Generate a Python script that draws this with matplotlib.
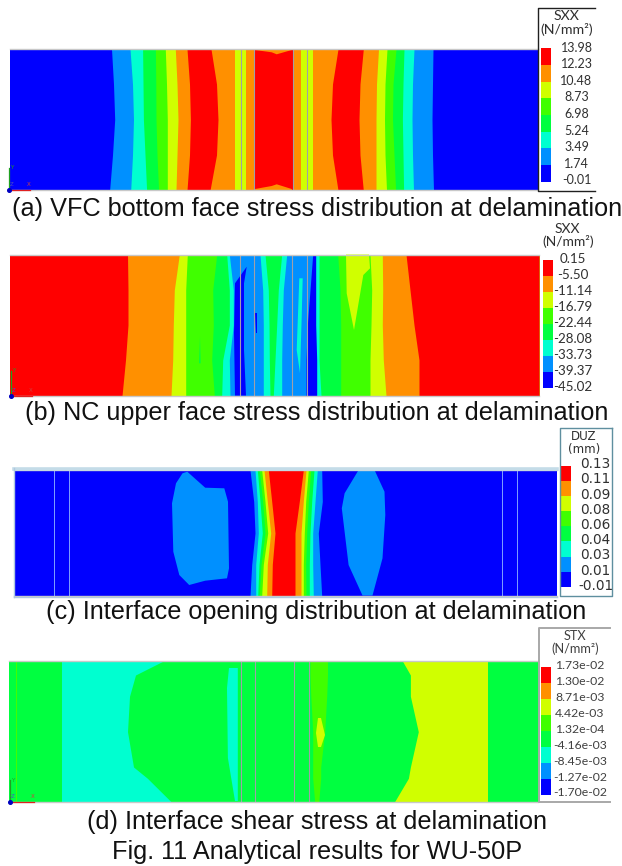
import matplotlib
matplotlib.use("Agg")
import matplotlib.pyplot as plt

# contour palette, lowest band to highest band
PALETTE = ['#0000ff', '#0090ff', '#00ffd0', '#00ff40', '#40ff00', '#d0ff00', '#ff9000', '#ff0000']
B, LB, CY, GR, LI, YE, OR, RE = PALETTE
GREY = '#a0a0a8'

# ---- Panel (a) VFC bottom face stress
a_title = ['SXX', '(N/mm²)']
a_ticks = ['13.98', '12.23', '10.48', '8.73', '6.98', '5.24', '3.49', '1.74', '-0.01']
a_rows = [49, 84, 119.5, 155, 190.3]
a_bands = [
    (B,  [9.5, 9.5, 9.5, 9.5, 9.5]),
    (LB, [111.5, 113.5, 114.7, 112.5, 109.6]),
    (CY, [130, 132.5, 133.5, 132.5, 130.7]),
    (GR, [142.6, 143, 143.4, 145, 146.6]),
    (LI, [155.4, 155.8, 156, 157, 158.6]),
    (YE, [165.3, 166.5, 167.3, 167.3, 167.3]),
    (OR, [175.3, 177, 178, 177, 176]),
    (RE, [187, 189.5, 190.4, 189.5, 187]),
    (OR, [211, 216.5, 218, 216.5, 210]),
    (YE, [235, 235, 235, 235, 235]),
    (OR, [245.6, 245.6, 245.6, 245.6, 245.6]),
    (RE, [254.3, 254.3, 254.3, 254.3, 254.3]),
    (OR, [293.3, 293.3, 293.3, 293.3, 293.3]),
    (YE, [301.3, 301.3, 301.3, 301.3, 301.3]),
    (OR, [312.7, 312.7, 312.7, 312.7, 312.7]),
    (RE, [338, 332.5, 331, 332.5, 338]),
    (OR, [363.3, 360, 359, 360, 363.3]),
    (YE, [378.5, 376.5, 376, 376, 376]),
    (LI, [387, 385, 384.5, 385, 386.5]),
    (GR, [396, 393, 392.5, 394, 395.6]),
    (CY, [404, 403, 402.4, 403, 403.6]),
    (LB, [414, 412.5, 412, 412.5, 413.5]),
    (B,  [433, 432.5, 432, 432.5, 433.5]),
]
a_right = 538
a_patches = [
    (OR, [(255, 49), (292, 49), (291.7, 50), (276.7, 54.3), (271.7, 52.3), (255, 50)]),
    (OR, [(255, 190.3), (292, 190.3), (291.7, 189), (276.7, 184.3), (271.7, 186), (255, 189)]),
]
a_lines = [240.7, 254, 293.3, 307.3]

# ---- Panel (b) NC upper face stress
b_title = ['SXX', '(N/mm²)']
b_ticks = ['0.15', '-5.50', '-11.14', '-16.79', '-22.44', '-28.08', '-33.73', '-39.37', '-45.02']
b_rows = [254.5, 290, 325, 360, 395.7]
b_bands = [
    (RE, [10, 10, 10, 10, 10]),
    (OR, [127.5, 128, 128, 125.5, 122]),
    (YE, [179.3, 174.3, 173.3, 172.7, 171]),
    (LI, [187.3, 185.7, 185.7, 185.7, 185.7]),
    (GR, [216.7, 212.7, 213.3, 211.7, 214.3]),
    (CY, [226.7, 229.3, 229.3, 222.7, 221.7]),
    (LB, [229.3, 233.3, 233.3, 229.3, 230]),
    (CY, [260, 262.7, 263.3, 263.3, 263.3]),
    (GR, [265, 268.3, 269, 269.3, 270]),
    (CY, [281.7, 278.3, 276.7, 275, 273.3]),
    (LB, [286.7, 283.3, 282.3, 281.7, 281.7]),
    (B,  [312.7, 310, 307.3, 306, 306]),
    (CY, [315.7, 315.7, 315.7, 316.7, 316.7]),
    (GR, [319, 319, 319, 319, 321]),
    (LI, [337.7, 340, 340.7, 340.7, 340.7]),
    (YE, [370, 371.7, 371, 370, 370]),
    (OR, [382.3, 382.7, 382.3, 383.3, 386]),
    (RE, [406, 410, 414, 419, 419]),
]
b_right = 539
b_patches = [
    (B, [(246.7, 266.7), (235, 283.3), (234, 333), (235, 395.7), (246, 395.7), (244, 350), (244, 283.3)]),
    (B, [(255, 313.3), (257.3, 313.3), (257.3, 333), (256, 333)]),
    (CY, [(299.3, 278.3), (302.7, 278.3), (301.7, 316.7), (300, 373.3), (296.7, 350)]),
    (YE, [(346, 254.5), (369, 254.5), (370, 268.3), (363.3, 275), (354, 330), (346.7, 293.3)]),
    (GR, [(200, 336.7), (200.7, 363.3), (199, 363.3)]),
]
b_lines = [240, 254.3, 292.3, 307.3]

# ---- Panel (c) Interface opening
c_title = ['DUZ', '(mm)']
c_ticks = ['0.13', '0.11', '0.09', '0.08', '0.06', '0.04', '0.03', '0.01', '-0.01']
c_rows = [470, 501.5, 533, 564.5, 596]
c_bands = [
    (B,  [14, 14, 14, 14, 14]),
    (LB, [250, 253.7, 255, 251.7, 250]),
    (CY, [255, 257.3, 258.3, 255.7, 255.7]),
    (GR, [257.3, 260, 262.3, 259, 257.7]),
    (LI, [259.3, 262.7, 265, 261, 259.3]),
    (YE, [261.7, 265, 267.7, 263.3, 261.7]),
    (OR, [264, 267.3, 270.7, 267.3, 266.7]),
    (RE, [268.3, 271.7, 275, 272.3, 271.7]),
    (OR, [303.3, 299.3, 295, 295, 295]),
    (YE, [306, 303.3, 301, 301, 301]),
    (LI, [308.3, 305.7, 304.3, 303.3, 303.3]),
    (GR, [310.7, 308.3, 306.7, 305.7, 306]),
    (CY, [314, 311.7, 310, 309.3, 309.3]),
    (LB, [317.3, 315, 312.7, 312.7, 313.3]),
    (B,  [321.7, 322.3, 318.3, 320, 321.7]),
]
c_right = 556.5
c_patches = [
    (LB, [(182.5, 473.3), (176, 483.3), (172, 503.3), (173.3, 551.7), (179.3, 575), (189.2, 585),
          (205.2, 580.7), (227, 578.3), (229, 568.3), (228, 501.7), (224.3, 488.3), (205.2, 487.7),
          (187.3, 471.7)]),
    (LB, [(358.6, 470), (374.5, 470), (384.5, 491.7), (385.3, 515), (382.5, 558.3), (372.5, 595.5),
          (362.5, 595.5), (348.6, 565), (341.8, 508.3), (344.6, 493.3)]),
]
c_lines = [53.8, 69, 502, 517]

# ---- Panel (d) Interface shear stress
d_title = ['STX', '(N/mm²)']
d_ticks = ['1.73e-02', '1.30e-02', '8.71e-03', '4.42e-03', '1.32e-04', '-4.16e-03', '-8.45e-03', '-1.27e-02', '-1.70e-02']
d_rows = [661, 675, 696.3, 731.7, 767, 778.3, 802]
d_bands = [
    (GR, [9, 9, 9, 9, 9, 9, 9]),
    (CY, [61.8, 61.8, 61.8, 61.8, 61.8, 61.8, 61.8]),
    (GR, [163.3, 135.5, 129.5, 127.5, 133.5, 147.4, 171.3]),
    (LI, [310, 310, 310.8, 312.7, 312.7, 312.7, 314.7]),
    (GR, [327.5, 327.5, 326.7, 324.7, 320.7, 320.7, 318.7]),
    (YE, [402.4, 410.4, 410.4, 418.3, 410.4, 408.4, 394.4]),
    (GR, [488, 488, 488, 488, 488, 488, 488]),
]
d_right = 538
d_patches = [
    (CY, [(229, 668), (237.8, 668), (237.8, 801), (235, 801), (227.9, 758), (227, 688)]),
    (YE, [(318, 718), (321, 718), (325, 735), (321, 747), (318, 747), (316, 733)]),
    (LI, [(15.5, 661), (16.8, 661), (16.8, 802), (15.5, 802)]),
]
d_lines = [241, 255, 293.6, 308.8]

captions = [
    '(a) VFC bottom face stress distribution at delamination',
    '(b) NC upper face stress distribution at delamination',
    '(c) Interface opening distribution at delamination',
    '(d) Interface shear stress at delamination',
    'Fig. 11 Analytical results for WU-50P',
]
caption_y = [209, 413.3, 612, 822.3, 852]

fig = plt.figure(figsize=(6.22, 8.66), dpi=100, facecolor='white')
ax = fig.add_axes([0, 0, 1, 1])
ax.set_xlim(0, 622)
ax.set_ylim(866, 0)
ax.axis('off')


def panel(rows, bands, right, patches, lines, line_col=GREY, line_w=0.8):
    for col, xs in bands:
        ax.fill_betweenx(rows, xs, right, color=col, lw=0)
    for col, pts in patches:
        ax.fill(*zip(*pts), color=col, lw=0)
    ax.vlines(lines, rows[0], rows[-1], color=line_col, lw=line_w)
    ax.plot([bands[0][1][0], right], [rows[0], rows[0]], color='#c8c8c8', lw=1)
    ax.plot([bands[0][1][0], right], [rows[-1], rows[-1]], color='#c8c8c8', lw=1)


def scale(ticks, title, x0, x1, y0, y1, xc, xt, yt, tick_y0, tick_y1, font, fs, tfs, tcol='#303030'):
    n = len(ticks) - 1
    h = (y1 - y0) / n
    for i in range(n):
        ax.bar((x0 + x1) / 2, h, x1 - x0, y0 + i * h, color=PALETTE[n - 1 - i], lw=0)
    step = (tick_y1 - tick_y0) / n
    for i, t in enumerate(ticks):
        ax.text(xc, tick_y0 + i * step, t, ha='center', va='center', family=font, fontsize=fs, color=tcol)
    for t, y in zip(title, yt):
        ax.text(xt, y, t, ha='center', va='center', family=font, fontsize=tfs, color=tcol)


def triad(x, y, lx, ly, fs=4):
    ax.plot([x, x + lx], [y, y], color='#e02020', lw=0.9)
    ax.plot([x, x], [y, y - ly], color='#20a020', lw=0.9)
    ax.plot([x], [y], 'o', color='#0000c0', ms=2.6)
    ax.text(x + lx * 0.95, y - 5, 'X', color='#d04040', fontsize=fs, ha='center', va='center')
    ax.text(x + 3, y - ly, 'Y', color='#20a020', fontsize=fs, ha='center', va='center')
    ax.text(x + 3, y - 5, 'Z', color='#5050c0', fontsize=fs, ha='center', va='center')


panel(a_rows, a_bands, a_right, a_patches, a_lines)
panel(b_rows, b_bands, b_right, b_patches, b_lines)
panel(c_rows, c_bands, c_right, c_patches, c_lines, line_col='#80a0ff', line_w=0.7)
panel(d_rows, d_bands, d_right, d_patches, d_lines)
# top band of panel (c)
ax.plot([14, 557], [468.5, 468.5], color='#c4dce8', lw=2.6)
ax.plot([14, 557], [596.5, 596.5], color='#b0c8e0', lw=1)
ax.plot([14, 14], [468, 597], color='#b0c8e0', lw=1)

scale(a_ticks, a_title, 541, 551, 48.3, 181.7, 576.5, 566.7, [16, 29], 47.7, 180.3, 'Lato', 9, 10.2)
scale(b_ticks, b_title, 542.6, 553, 260, 388, 572.5, 567.7, [229, 241.7], 258.7, 387.3, 'Lato', 9.6, 10)
scale(c_ticks, c_title, 559.8, 570.5, 466, 586.7, 595.6, 583.7, [436, 449], 464.3, 585.7, 'DejaVu Sans', 9.8, 8.6)
scale(d_ticks, d_title, 541, 551, 666.7, 795, 580, 575, [635.7, 648.7], 665.7, 793, 'Lato', 8.8, 9.2, '#404040')

# legend frames
ax.plot([595, 537.5, 537.5, 595], [8.3, 8.3, 190.7, 190.7], color='#202020', lw=1)
ax.plot([612, 559.8, 559.8, 612, 612], [428.3, 428.3, 596, 596, 428.3], color='#5f8f9f', lw=1)
ax.plot([610, 539.3, 539.3, 610], [627.7, 627.7, 801.7, 801.7], color='#a8a8a8', lw=1.4)

triad(9, 189.5, 21, 22)
triad(10.5, 395.5, 21, 25)
triad(10, 802, 24, 22)

for t, y in zip(captions, caption_y):
    ax.text(316.6, y, t, ha='center', va='center', family='Liberation Sans', fontsize=18.2, color='#111111')

fig.savefig('out.png', dpi=100)
